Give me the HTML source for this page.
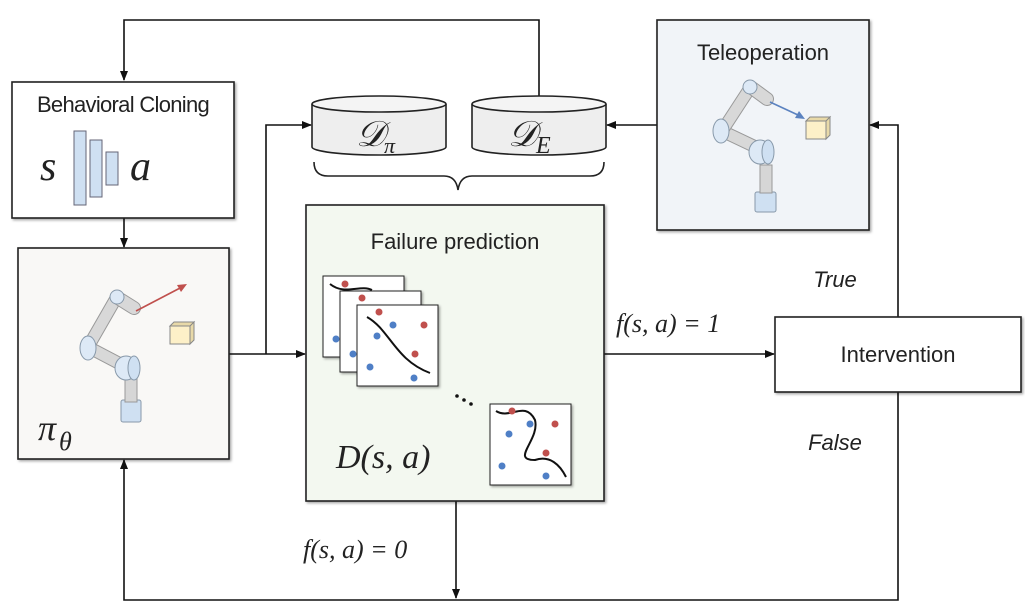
<!DOCTYPE html>
<html><head><meta charset="utf-8"><style>
html,body{margin:0;padding:0;background:#fff;}
svg{display:block;}
.t{font-family:"Liberation Sans",sans-serif;fill:#222;}
.m{font-family:"Liberation Serif",serif;font-style:italic;fill:#222;}
</style></head><body>
<svg width="1025" height="607" viewBox="0 0 1025 607" xmlns="http://www.w3.org/2000/svg">
<defs>
<marker id="a" markerWidth="10" markerHeight="8" refX="9" refY="4" orient="auto" markerUnits="userSpaceOnUse">
<path d="M0,0 L10,4 L0,8 z" fill="#111"/></marker>
<filter id="sh" x="-5%" y="-5%" width="115%" height="115%"><feDropShadow dx="1.5" dy="1.5" stdDeviation="1.2" flood-opacity="0.35"/></filter>
</defs>

<!-- lines -->
<g stroke="#111" stroke-width="1.6" fill="none">
<polyline points="539,96 539,20 124,20 124,80" marker-end="url(#a)"/>
<line x1="124" y1="218" x2="124" y2="247" marker-end="url(#a)"/>
<line x1="229" y1="354" x2="305" y2="354" marker-end="url(#a)"/>
<polyline points="266,354 266,125 311,125" marker-end="url(#a)"/>
<line x1="657" y1="125" x2="607" y2="125" marker-end="url(#a)"/>
<polyline points="898,317 898,125 870,125" marker-end="url(#a)"/>
<line x1="604" y1="354" x2="774" y2="354" marker-end="url(#a)"/>
<polyline points="898,392 898,600 124,600 124,460" marker-end="url(#a)"/>
<line x1="456" y1="501" x2="456" y2="598" marker-end="url(#a)"/>
</g>

<!-- BC box -->
<rect x="12" y="82" width="222" height="136" fill="#fff" stroke="#222" stroke-width="1.6" filter="url(#sh)"/>
<text class="t" x="123" y="112" font-size="22" text-anchor="middle" letter-spacing="-0.7">Behavioral Cloning</text>
<text class="m" x="40" y="180" font-size="42">s</text>
<rect x="74" y="131" width="12" height="74" fill="#cfe0f2" stroke="#667"/>
<rect x="90" y="140" width="12" height="57" fill="#cfe0f2" stroke="#667"/>
<rect x="106" y="152" width="12" height="33" fill="#cfe0f2" stroke="#667"/>
<text class="m" x="130" y="180" font-size="42">a</text>

<!-- cylinders -->
<g stroke="#222" stroke-width="1.6">
<path d="M312,104 L312,147 A67,8 0 0 0 446,147 L446,104" fill="#eee"/>
<ellipse cx="379" cy="104" rx="67" ry="8" fill="#f4f4f4"/>
<path d="M472,104 L472,147 A67,8 0 0 0 606,147 L606,104" fill="#eee"/>
<ellipse cx="539" cy="104" rx="67" ry="8" fill="#f4f4f4"/>
</g>
<text x="356" y="146" font-family="Liberation Serif,serif" font-style="italic" font-size="36" fill="#222">𝒟</text>
<text class="m" x="384" y="153" font-size="22">π</text>
<text x="508" y="146" font-family="Liberation Serif,serif" font-style="italic" font-size="36" fill="#222">𝒟</text>
<text class="m" x="536" y="153" font-size="24">E</text>
<path d="M314,162 Q314,176 328,176 L444,176 Q456,176 458,190 Q460,176 472,176 L590,176 Q604,176 604,162" stroke="#222" stroke-width="1.6" fill="none"/>

<!-- policy box -->
<rect x="18" y="248" width="211" height="211" fill="#f9f8f6" stroke="#222" stroke-width="1.6" filter="url(#sh)"/>
<g>
<rect x="121" y="400" width="20" height="22" rx="2" fill="#cfe0f2" stroke="#8899aa"/>
<rect x="125" y="375" width="12" height="27" fill="#d6d6d6" stroke="#999"/>
<line x1="88" y1="347" x2="128" y2="368" stroke="#999" stroke-width="13" stroke-linecap="round"/>
<line x1="88" y1="347" x2="128" y2="368" stroke="#d8d8d8" stroke-width="11" stroke-linecap="round"/>
<line x1="88" y1="347" x2="115" y2="300" stroke="#999" stroke-width="13" stroke-linecap="round"/>
<line x1="88" y1="347" x2="115" y2="300" stroke="#d8d8d8" stroke-width="11" stroke-linecap="round"/>
<ellipse cx="126" cy="368" rx="11" ry="12" fill="#dde9f6" stroke="#8899aa"/>
<ellipse cx="134" cy="368" rx="6" ry="12" fill="#cfe0f2" stroke="#8899aa"/>
<ellipse cx="88" cy="348" rx="8" ry="12" fill="#dde9f6" stroke="#8899aa"/>
<line x1="118" y1="298" x2="134" y2="308" stroke="#999" stroke-width="14" stroke-linecap="round"/>
<line x1="118" y1="298" x2="134" y2="308" stroke="#d8d8d8" stroke-width="12" stroke-linecap="round"/>
<ellipse cx="117" cy="297" rx="7" ry="7" fill="#dde9f6" stroke="#8899aa"/>
</g>
<line x1="136" y1="311" x2="182" y2="287" stroke="#c0504d" stroke-width="1.6"/>
<path d="M187,284 l-10,1 l4,7 z" fill="#c0504d"/>
<rect x="170" y="326" width="20" height="18" fill="#fdf0c8" stroke="#888"/>
<path d="M170,326 l4,-4 h20 l-4,4 z M190,326 l4,-4 v18 l-4,4z" fill="#e8d9a8" stroke="#888"/>
<text class="m" x="38" y="440" font-size="36">π</text>
<text class="m" x="59" y="450" font-size="26">θ</text>

<!-- failure box -->
<rect x="306" y="205" width="298" height="296" fill="#f3f8f0" stroke="#222" stroke-width="1.6" filter="url(#sh)"/>
<text class="t" x="455" y="249" font-size="22" text-anchor="middle">Failure prediction</text>
<g stroke="#222" stroke-width="1">
<rect x="323" y="276" width="81" height="81" fill="#fff" filter="url(#sh)"/>
<rect x="340" y="291" width="81" height="81" fill="#fff" filter="url(#sh)"/>
<rect x="357" y="305" width="81" height="81" fill="#fff" filter="url(#sh)"/>
<rect x="490" y="404" width="81" height="81" fill="#fff" filter="url(#sh)"/>
</g>
<path d="M330,284 C345,296 360,284 372,290" stroke="#111" stroke-width="2" fill="none"/>
<path d="M367,317 C390,330 395,360 430,373" stroke="#111" stroke-width="2" fill="none"/>
<path d="M496,411 C510,420 525,400 535,420 C540,440 510,460 535,460 C550,455 560,465 566,477" stroke="#111" stroke-width="2" fill="none"/>
<g fill="#c0504d"><circle cx="345" cy="284" r="3.5"/><circle cx="362" cy="298" r="3.5"/><circle cx="379" cy="312" r="3.5"/><circle cx="424" cy="325" r="3.5"/><circle cx="415" cy="354" r="3.5"/><circle cx="512" cy="411" r="3.5"/><circle cx="555" cy="424" r="3.5"/><circle cx="546" cy="453" r="3.5"/></g>
<g fill="#4f7fc6"><circle cx="336" cy="339" r="3.5"/><circle cx="353" cy="354" r="3.5"/><circle cx="393" cy="325" r="3.5"/><circle cx="377" cy="336" r="3.5"/><circle cx="370" cy="367" r="3.5"/><circle cx="414" cy="378" r="3.5"/><circle cx="509" cy="434" r="3.5"/><circle cx="530" cy="424" r="3.5"/><circle cx="502" cy="466" r="3.5"/><circle cx="546" cy="476" r="3.5"/></g>
<g fill="#111"><circle cx="457" cy="396" r="1.8"/><circle cx="464" cy="400" r="1.8"/><circle cx="471" cy="404" r="1.8"/></g>
<text class="m" x="336" y="468" font-size="34">D(s, a)</text>

<!-- teleop -->
<rect x="657" y="20" width="212" height="210" fill="#f1f4f8" stroke="#222" stroke-width="1.6" filter="url(#sh)"/>
<text class="t" x="763" y="60" font-size="22" text-anchor="middle">Teleoperation</text>
<g>
<rect x="755" y="192" width="21" height="20" rx="2" fill="#cfe0f2" stroke="#8899aa"/>
<rect x="760" y="165" width="12" height="28" fill="#d6d6d6" stroke="#999"/>
<line x1="722" y1="131" x2="762" y2="150" stroke="#999" stroke-width="13" stroke-linecap="round"/>
<line x1="722" y1="131" x2="762" y2="150" stroke="#d8d8d8" stroke-width="11" stroke-linecap="round"/>
<line x1="722" y1="131" x2="750" y2="88" stroke="#999" stroke-width="13" stroke-linecap="round"/>
<line x1="722" y1="131" x2="750" y2="88" stroke="#d8d8d8" stroke-width="11" stroke-linecap="round"/>
<ellipse cx="760" cy="152" rx="11" ry="12" fill="#dde9f6" stroke="#8899aa"/>
<ellipse cx="768" cy="152" rx="6" ry="12" fill="#cfe0f2" stroke="#8899aa"/>
<ellipse cx="721" cy="131" rx="8" ry="12" fill="#dde9f6" stroke="#8899aa"/>
<line x1="752" y1="88" x2="767" y2="99" stroke="#999" stroke-width="14" stroke-linecap="round"/>
<line x1="752" y1="88" x2="767" y2="99" stroke="#d8d8d8" stroke-width="12" stroke-linecap="round"/>
<ellipse cx="750" cy="87" rx="7" ry="7" fill="#dde9f6" stroke="#8899aa"/>
</g>
<line x1="770" y1="102" x2="798" y2="115" stroke="#5b82c0" stroke-width="1.6"/>
<path d="M805,119 l-10,-1 l4,-7 z" fill="#5b82c0"/>
<rect x="806" y="121" width="20" height="18" fill="#fdf0c8" stroke="#888"/>
<path d="M806,121 l4,-4 h20 l-4,4 z M826,121 l4,-4 v18 l-4,4z" fill="#e8d9a8" stroke="#888"/>

<!-- intervention -->
<rect x="775" y="317" width="246" height="75" fill="#fff" stroke="#222" stroke-width="1.6" filter="url(#sh)"/>
<text class="t" x="898" y="362" font-size="22" text-anchor="middle">Intervention</text>
<text class="t" x="835" y="287" font-size="22" font-style="italic" text-anchor="middle">True</text>
<text class="t" x="835" y="450" font-size="22" font-style="italic" text-anchor="middle">False</text>
<text class="m" x="616" y="332" font-size="26" fill="#333">f(s, a) = 1</text>
<text class="m" x="303" y="558" font-size="26" fill="#333">f(s, a) = 0</text>
</svg>
</body></html>
